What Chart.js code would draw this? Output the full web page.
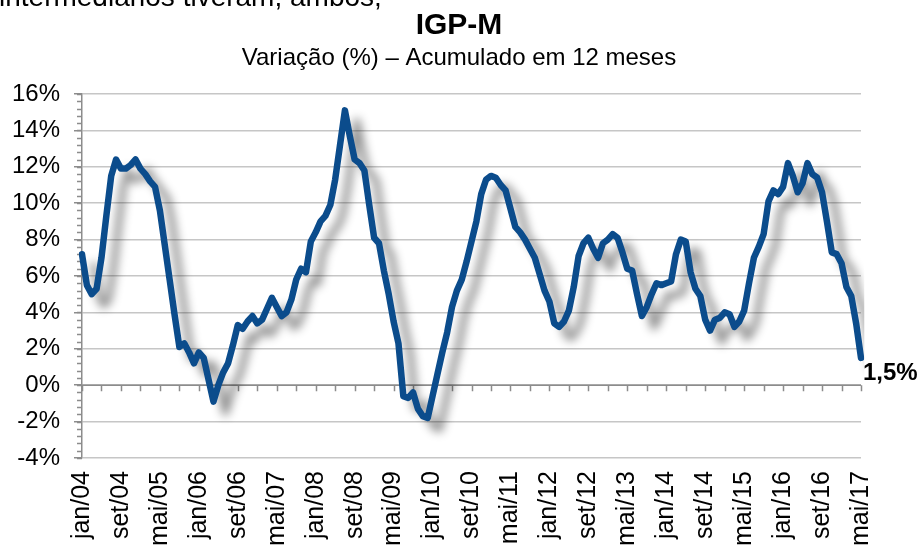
<!DOCTYPE html>
<html>
<head>
<meta charset="utf-8">
<script src="https://cdn.jsdelivr.net/npm/chart.js@4.4.1/dist/chart.umd.min.js"></script>
<style>
  html, body { margin: 0; padding: 0; background: #fff; }
  #wrap { width: 918px; height: 547px; }
</style>
</head>
<body>
<div id="wrap"><canvas id="igpm"></canvas></div>
<script>
// IGP-M, variação acumulada em 12 meses (%), jan/04 a mai/17
var months = ['jan', 'fev', 'mar', 'abr', 'mai', 'jun', 'jul', 'ago', 'set', 'out', 'nov', 'dez'];
var years = ['04', '05', '06', '07', '08', '09', '10', '11', '12', '13', '14', '15', '16', '17'];

var igpm2004 = [7.2, 5.5, 5.0, 5.3, 7.0, 9.3, 11.5, 12.4, 11.9, 11.9, 12.1, 12.4];
var igpm2005 = [11.9, 11.6, 11.2, 10.9, 9.6, 7.7, 5.8, 3.9, 2.1, 2.3, 1.8, 1.2];
var igpm2006 = [1.8, 1.5, 0.3, -0.9, 0.0, 0.7, 1.2, 2.2, 3.3, 3.1, 3.5, 3.8];
var igpm2007 = [3.4, 3.6, 4.2, 4.8, 4.3, 3.8, 4.0, 4.7, 5.8, 6.4, 6.2, 7.9];
var igpm2008 = [8.4, 9.0, 9.3, 9.9, 11.3, 13.2, 15.1, 13.7, 12.4, 12.2, 11.8, 9.9];
var igpm2009 = [8.1, 7.8, 6.3, 5.0, 3.5, 2.3, -0.6, -0.7, -0.4, -1.3, -1.7, -1.8];
var igpm2010 = [-0.6, 0.6, 1.8, 2.9, 4.3, 5.2, 5.8, 6.8, 7.9, 9.0, 10.5, 11.3];
var igpm2011 = [11.5, 11.4, 11.0, 10.7, 9.7, 8.7, 8.4, 8.0, 7.5, 7.0, 6.1, 5.2];
var igpm2012 = [4.6, 3.4, 3.2, 3.5, 4.1, 5.4, 7.1, 7.8, 8.1, 7.5, 7.0, 7.8];
var igpm2013 = [8.0, 8.3, 8.1, 7.3, 6.4, 6.3, 5.0, 3.8, 4.3, 5.0, 5.6, 5.5];
var igpm2014 = [5.6, 5.7, 7.2, 8.0, 7.9, 6.2, 5.3, 4.9, 3.6, 3.0, 3.6, 3.7];
var igpm2015 = [4.0, 3.9, 3.2, 3.5, 4.1, 5.6, 7.0, 7.6, 8.3, 10.1, 10.7, 10.5];
var igpm2016 = [10.9, 12.2, 11.5, 10.6, 11.1, 12.2, 11.6, 11.4, 10.6, 9.0, 7.3, 7.2];
var igpm2017 = [6.7, 5.4, 4.9, 3.4, 1.5];

var yTicks = [-4, -2, 0, 2, 4, 6, 8, 10, 12, 14, 16];

var series = [].concat(igpm2004, igpm2005, igpm2006, igpm2007, igpm2008, igpm2009,
    igpm2010, igpm2011, igpm2012, igpm2013, igpm2014, igpm2015, igpm2016, igpm2017);

var categories = [];
years.forEach(function (yy) {
    months.forEach(function (m) {
        if (categories.length < series.length) categories.push(m + '/' + yy);
    });
});

var titleText = 'IGP-M';
var subtitleText = 'Variação (%) – Acumulado em 12 meses';
var pageText = 'intermediários tiveram, ambos,'; // resto do texto da página, cortado no topo
var fontFamily = '"Liberation Sans", Arial, sans-serif';

// sombra da linha
var lineShadow = {
    id: 'lineShadow',
    beforeDatasetDraw: function (chart) {
        var ctx = chart.ctx;
        ctx.save();
        ctx.shadowColor = 'rgba(0, 0, 0, 0.45)';
        ctx.shadowBlur = 10;
        ctx.shadowOffsetX = 12;
        ctx.shadowOffsetY = 11;
    },
    afterDatasetDraw: function (chart) {
        chart.ctx.restore();
    }
};

// títulos centrados na página, eixo no zero, marcas menores e rótulo final
var extras = {
    id: 'extras',
    beforeDatasetsDraw: function (chart) {
        var ctx = chart.ctx, x = chart.scales.x, y = chart.scales.y;
        var area = chart.chartArea;
        var y0 = y.getPixelForValue(0);
        ctx.save();
        ctx.strokeStyle = '#8c8c8c';
        ctx.lineWidth = 1.5;
        ctx.beginPath();
        ctx.moveTo(area.left, y0);
        ctx.lineTo(area.right, y0);
        for (var i = 0; i < categories.length; i += 4) {
            var px = Math.round(x.getPixelForValue(i)) + 0.5;
            ctx.moveTo(px, y0);
            ctx.lineTo(px, y0 + 6);
        }
        for (var v = yTicks[0]; v <= yTicks[yTicks.length - 1] + 0.001; v += 0.4) {
            var py = Math.round(y.getPixelForValue(v)) + 0.5;
            ctx.moveTo(area.left - 5, py);
            ctx.lineTo(area.left, py);
        }
        ctx.stroke();
        ctx.restore();
    },
    afterDraw: function (chart) {
        var ctx = chart.ctx, x = chart.scales.x, y = chart.scales.y;
        var mid = chart.width / 2;
        ctx.save();
        ctx.fillStyle = '#000';
        ctx.textBaseline = 'alphabetic';
        ctx.textAlign = 'left';
        ctx.font = '28px ' + fontFamily;
        ctx.fillText(pageText, -1, 6);

        ctx.textAlign = 'center';
        ctx.textBaseline = 'middle';
        ctx.font = 'bold 30px ' + fontFamily;
        ctx.fillText(titleText, mid, 26);
        ctx.font = '24px ' + fontFamily;
        ctx.fillText(subtitleText, mid, 58);

        var last = series.length - 1;
        var txt = series[last].toFixed(1).replace('.', ',') + '%';
        ctx.font = 'bold 24px ' + fontFamily;
        ctx.textAlign = 'left';
        ctx.fillText(txt, x.getPixelForValue(last) + 2, y.getPixelForValue(series[last]) + 15);
        ctx.restore();
    }
};

const ctx = document.getElementById('igpm');

new Chart(ctx, {
    type: 'line',
    data: {
        labels: categories,
        datasets: [{
            label: 'IGP-M',
            data: series,
            borderColor: '#0b4c8c',
            borderWidth: 6.5,
            pointRadius: 0,
            tension: 0,
            borderJoinStyle: 'round',
            borderCapStyle: 'round',
            fill: false
        }]
    },
    options: {
        responsive: true,
        maintainAspectRatio: false,
        animation: false,
        layout: {
            padding: { left: 0, right: 57, top: 94, bottom: 0 }
        },
        plugins: {
            legend: { display: false },
            tooltip: { enabled: false },
            title: { display: false }
        },
        scales: {
            x: {
                type: 'category',
                grid: { display: false, drawTicks: false },
                border: { display: false },
                ticks: {
                    autoSkip: false,
                    minRotation: 90,
                    maxRotation: 90,
                    padding: 13,
                    color: '#000',
                    font: { family: fontFamily, size: 25 },
                    callback: function (val, idx) {
                        return idx % 8 === 0 ? this.getLabelForValue(val) : '';
                    }
                },
                afterFit: function (scale) { scale.height = 89; }
            },
            y: {
                min: yTicks[0],
                max: yTicks[yTicks.length - 1],
                grid: {
                    color: '#c6c6c6',
                    lineWidth: 1.5,
                    tickColor: '#8c8c8c',
                    tickLength: 8
                },
                border: { display: true, color: '#8c8c8c', width: 1.5 },
                afterBuildTicks: function (scale) {
                    scale.ticks = yTicks.map(function (v) { return { value: v }; });
                },
                ticks: {
                    padding: 14,
                    color: '#000',
                    font: { family: fontFamily, size: 24 },
                    callback: function (v) { return v + '%'; }
                },
                afterFit: function (scale) { scale.width = 82; }
            }
        }
    },
    plugins: [lineShadow, extras]
});
</script>
</body>
</html>
